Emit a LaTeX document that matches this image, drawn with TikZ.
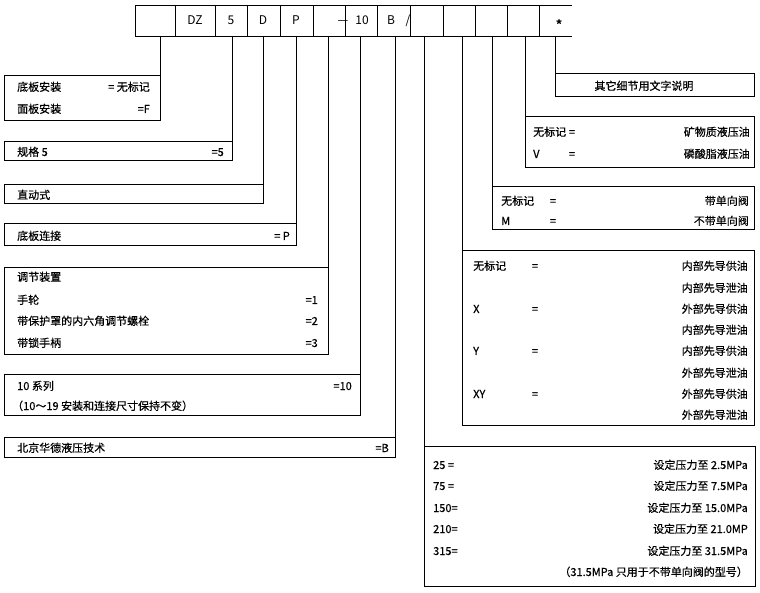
\documentclass[tikz,border=0pt]{standalone}
\usepackage{fontspec}
\setmainfont{Noto Sans CJK SC}[BoldFont=Noto Sans CJK SC, BoldFeatures={FakeBold=0.5}]
\begin{document}
\begin{tikzpicture}[x=1pt,y=-1pt,
  ln/.style={line width=0.9pt, draw=black},
  box/.style={ln, anchor=north west, inner sep=0pt, outer sep=0pt, rectangle},
  txt/.style={inner sep=0pt, font=\fontsize{11}{13}\selectfont\bfseries, text=black},
  lt/.style={txt, anchor=base west},
  rt/.style={txt, anchor=base east},
  ct/.style={txt, anchor=base},
  cell/.style={ct, font=\fontsize{12}{14}\selectfont},
]
\useasboundingbox (0,0) rectangle (760,593);
% ---- top code row ----
\node[box, minimum width=40pt, minimum height=31pt] (c0) at (135,5) {};
\node[box, minimum width=40pt, minimum height=31pt] (c1) at (175,5) {};
\node[box, minimum width=32pt, minimum height=31pt] (c2) at (215,5) {};
\node[box, minimum width=33pt, minimum height=31pt] (c3) at (247,5) {};
\node[box, minimum width=33pt, minimum height=31pt] (c4) at (280,5) {};
\node[box, minimum width=32pt, minimum height=31pt] (c5) at (313,5) {};
\node[box, minimum width=32pt, minimum height=31pt] (c6) at (345,5) {};
\node[box, minimum width=33pt, minimum height=31pt] (c7) at (377,5) {};
\node[box, minimum width=33pt, minimum height=31pt] (c8) at (410,5) {};
\node[box, minimum width=32pt, minimum height=31pt] (c9) at (443,5) {};
\node[box, minimum width=32pt, minimum height=31pt] (c10) at (475,5) {};
\node[box, minimum width=32pt, minimum height=31pt] (c11) at (507,5) {};
\coordinate (e1) at (572,5);
\coordinate (e2) at (572,36);
\draw[ln] (c11.north east) -- (e1);
\draw[ln] (c11.south east) -- (e2);
\node[cell] (tDZ) at (195,25) {DZ};
\node[cell] (t5) at (231,25) {5};
\node[cell] (tD) at (263,25) {D};
\node[cell] (tP) at (296,25) {P};
\node[cell] (tm) at (343,25) {—};
\node[cell] (t10) at (362,25) {10};
\node[cell] (tB) at (391,25) {B};
\node[cell] (tsl) at (408,25) {/};
\node[ct, font=\fontsize{15}{16}\selectfont\bfseries] (tst) at (559,31) {*};
% ---- left boxes ----
\node[box, minimum width=156pt, minimum height=45pt] (b1) at (4,75) {};
\node[box, minimum width=228pt, minimum height=19pt] (b2) at (4,141) {};
\node[box, minimum width=259pt, minimum height=19pt] (b3) at (4,184) {};
\node[box, minimum width=292pt, minimum height=22pt] (b4) at (4,223) {};
\node[box, minimum width=324pt, minimum height=87pt] (b5) at (4,267) {};
\node[box, minimum width=356pt, minimum height=41pt] (b6) at (4,374) {};
\node[box, minimum width=391pt, minimum height=20pt] (b7) at (4,437) {};
% ---- right boxes ----
\node[box, minimum width=199pt, minimum height=23pt] (r1) at (555,73) {};
\node[box, minimum width=229pt, minimum height=51pt] (r2) at (525,116) {};
\node[box, minimum width=262pt, minimum height=43pt] (r3) at (492,186) {};
\node[box, minimum width=292pt, minimum height=175pt] (r4) at (462,250) {};
\node[box, minimum width=331pt, minimum height=140pt] (r5) at (424,446) {};
% ---- connectors ----
\coordinate (k1) at (160,36);
\coordinate (k2) at (232,36);
\coordinate (k3) at (263,36);
\coordinate (k4) at (296,36);
\coordinate (k5) at (328,36);
\coordinate (k6) at (360,36);
\coordinate (k7) at (395,36);
\coordinate (k8) at (424,36);
\coordinate (k9) at (462,36);
\coordinate (k10) at (492,36);
\coordinate (k11) at (525,36);
\coordinate (k12) at (555,36);
\draw[ln] (k1) -- (b1.north east);
\draw[ln] (k2) -- (b2.north east);
\draw[ln] (k3) -- (b3.north east);
\draw[ln] (k4) -- (b4.north east);
\draw[ln] (k5) -- (b5.north east);
\draw[ln] (k6) -- (b6.north east);
\draw[ln] (k7) -- (b7.north east);
\draw[ln] (k8) -- (r5.north west);
\draw[ln] (k9) -- (r4.north west);
\draw[ln] (k10) -- (r3.north west);
\draw[ln] (k11) -- (r2.north west);
\draw[ln] (k12) -- (r1.north west);
% ---- left texts ----
\node[lt] (l1a) at (17,91) {底板安装};
\node[rt] (l1b) at (150,91) {= 无标记};
\node[lt] (l1c) at (17,113) {面板安装};
\node[rt] (l1d) at (150,113) {=F};
\node[lt] (l2a) at (17,156) {规格 5};
\node[rt] (l2b) at (224,156) {=5};
\node[lt] (l3a) at (17,199) {直动式};
\node[lt] (l4a) at (17,240) {底板连接};
\node[rt] (l4b) at (290,240) {= P};
\node[lt] (l5a) at (17,281) {调节装置};
\node[lt] (l5b) at (17,304) {手轮};
\node[rt] (l5c) at (318,304) {=1};
\node[lt] (l5d) at (17,325) {带保护罩的内六角调节螺栓};
\node[rt] (l5e) at (318,325) {=2};
\node[lt] (l5f) at (17,347) {带锁手柄};
\node[rt] (l5g) at (318,347) {=3};
\node[lt] (l6a) at (17,390) {10 系列};
\node[rt] (l6b) at (352,390) {=10};
\node[lt] (l6c) at (12,410) {（10～19 安装和连接尺寸保持不变）};
\node[lt] (l7a) at (17,452) {北京华德液压技术};
\node[rt] (l7b) at (389,452) {=B};
% ---- right texts ----
\node[ct] (r1a) at (644,90) {其它细节用文字说明};
\node[lt] (r2a) at (533,136) {无标记};
\node[ct] (r2b) at (572,136) {=};
\node[rt] (r2c) at (750,136) {矿物质液压油};
\node[lt] (r2d) at (533,158) {V};
\node[ct] (r2e) at (572,158) {=};
\node[rt] (r2f) at (750,158) {磷酸脂液压油};
\node[lt] (r3a) at (501,205) {无标记};
\node[ct] (r3b) at (553,205) {=};
\node[rt] (r3c) at (749,205) {带单向阀};
\node[lt] (r3d) at (501,225) {M};
\node[ct] (r3e) at (553,225) {=};
\node[rt] (r3f) at (749,225) {不带单向阀};
\node[lt] (r4a) at (473,270) {无标记};
\node[ct] (r4b) at (535,270) {=};
\node[rt] (r4c) at (748,270) {内部先导供油};
\node[rt] (r4d) at (748,292) {内部先导泄油};
\node[lt] (r4e) at (473,313) {X};
\node[ct] (r4f) at (535,313) {=};
\node[rt] (r4g) at (748,313) {外部先导供油};
\node[rt] (r4h) at (748,334) {内部先导泄油};
\node[lt] (r4i) at (473,355) {Y};
\node[ct] (r4j) at (535,355) {=};
\node[rt] (r4k) at (748,355) {内部先导供油};
\node[rt] (r4l) at (748,377) {外部先导泄油};
\node[lt] (r4m) at (473,398) {XY};
\node[ct] (r4n) at (535,398) {=};
\node[rt] (r4o) at (748,398) {外部先导供油};
\node[rt] (r4p) at (748,419) {外部先导泄油};
\node[lt] (r5a) at (433,469) {25 =};
\node[rt] (r5b) at (748,469) {设定压力至 2.5MPa};
\node[lt] (r5c) at (433,490) {75 =};
\node[rt] (r5d) at (748,490) {设定压力至 7.5MPa};
\node[lt] (r5e) at (433,512) {150=};
\node[rt] (r5f) at (748,512) {设定压力至 15.0MPa};
\node[lt] (r5g) at (433,533) {210=};
\node[rt] (r5h) at (748,533) {设定压力至 21.0MP};
\node[lt] (r5i) at (433,555) {315=};
\node[rt] (r5j) at (748,555) {设定压力至 31.5MPa};
\node[rt] (r5k) at (748,576) {（31.5MPa 只用于不带单向阀的型号）};
\end{tikzpicture}
\end{document}
